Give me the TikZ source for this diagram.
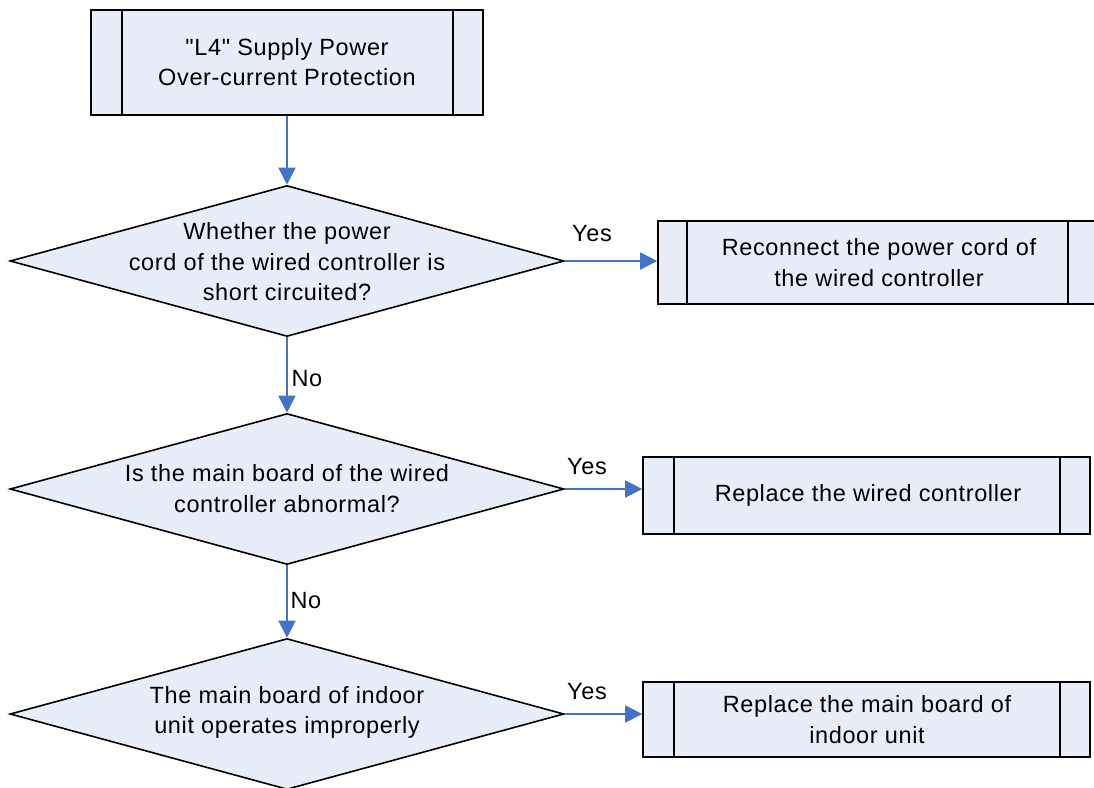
\documentclass[tikz,border=0pt]{standalone}
\usepackage{fontspec}
\setmainfont{Liberation Sans}[LetterSpace=2.7, Ligatures=TeXOff]
\usetikzlibrary{shapes.geometric,arrows.meta}
\definecolor{boxfill}{RGB}{232,238,248}
\definecolor{arrowblue}{RGB}{68,114,196}
\tikzset{
  procbox/.style={draw=black, line width=1.6pt, fill=boxfill, rectangle, inner sep=0pt},
  decbox/.style={draw=black, line width=1.6pt, fill=boxfill, diamond, inner sep=0pt,
                 minimum width=554pt, minimum height=151pt},
  txt/.style={font=\fontsize{23.5}{30.5}\selectfont, align=center, inner sep=0pt, text=black},
  lbl/.style={font=\fontsize{23.5}{26}\selectfont, inner sep=0pt, text=black},
  flow/.style={draw=arrowblue, line width=1.8pt, -{Triangle[length=17pt,width=17pt]}}
}
\newcommand{\sidebars}[3]{%
  \draw[line width=1.6pt] ([xshift=#2pt]#1.north west) -- ([xshift=#2pt]#1.south west);
  \draw[line width=1.6pt] ([xshift=-#3pt]#1.north east) -- ([xshift=-#3pt]#1.south east);
}
\begin{document}
\begin{tikzpicture}[x=1pt,y=-1pt]
\useasboundingbox (0,0) rectangle (1094,787);

% process boxes
\node[procbox, minimum width=392pt, minimum height=105pt] (b1) at (287,62.5) {};
\sidebars{b1}{32}{31}
\node[txt] (b1t) at (287,62) {"L4" Supply Power\\Over-current Protection};

\node[procbox, minimum width=440pt, minimum height=83pt] (b2) at (878,262.5) {};
\sidebars{b2}{30}{31}
\node[txt] (b2t) at (879,262.5) {Reconnect the power cord of\\the wired controller};

\node[procbox, minimum width=447pt, minimum height=77pt] (b3) at (866.5,495.5) {};
\sidebars{b3}{32}{31}
\node[txt] (b3t) at (868,495) {Replace the wired controller};

\node[procbox, minimum width=447pt, minimum height=75pt] (b4) at (866.5,719.5) {};
\sidebars{b4}{32}{31}
\node[txt] (b4t) at (867,719.5) {Replace the main board of\\indoor unit};

% decisions
\node[decbox] (d1) at (287,261) {};
\node[txt] (d1t) at (287,262) {Whether the power\\cord of the wired controller is\\short circuited?};

\node[decbox] (d2) at (287,489) {};
\node[txt] (d2t) at (287,488.5) {Is the main board of the wired\\controller abnormal?};

\node[decbox] (d3) at (287,714) {};
\node[txt] (d3t) at (287,712.5) {The main board of indoor\\unit operates improperly};

% connectors
\draw[flow] (b1.south) -- (d1.north);
\draw[flow] (d1.south) -- (d2.north);
\draw[flow] (d2.south) -- (d3.north);
\draw[flow] (d1.east) -- (d1.east -| b2.west);
\draw[flow] (d2.east) -- (d2.east -| b3.west);
\draw[flow] (d3.east) -- (d3.east -| b4.west);

% labels
\node[lbl] (y1) at (592,234) {Yes};
\node[lbl] (n1) at (307,379) {No};
\node[lbl] (y2) at (587,467) {Yes};
\node[lbl] (n2) at (306,601) {No};
\node[lbl] (y3) at (587,692) {Yes};
\end{tikzpicture}
\end{document}
